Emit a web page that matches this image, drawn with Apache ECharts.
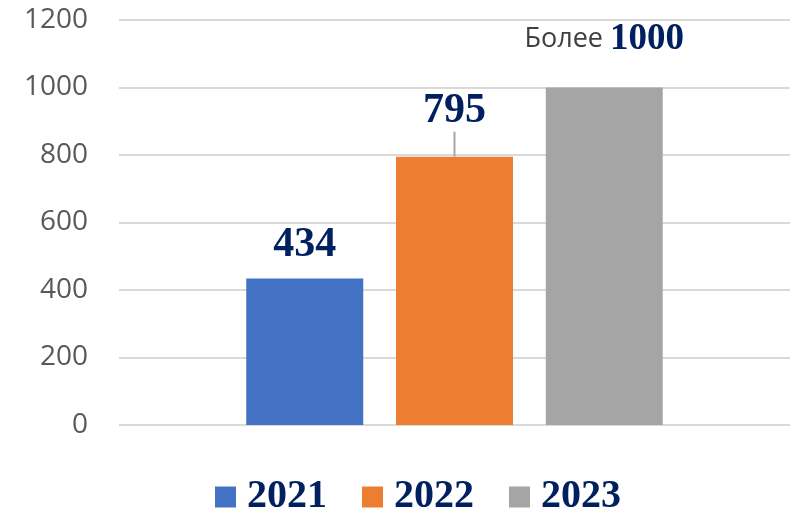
<!DOCTYPE html>
<html>
<head>
<meta charset="UTF-8">
<title>chart</title>
<script src="https://cdn.jsdelivr.net/npm/echarts@6/dist/echarts.min.js"></script>
<style>
  html, body { margin: 0; padding: 0; background: #fff; }
  #main { width: 795px; height: 513px; }
</style>
</head>
<body>
<div id="main"></div>
<script>
// данные
var years = ['2021', '2022', '2023'];
var values = [434, 795, 1000];
var colors = ['#4472C4', '#ED7D31', '#A5A5A5'];
var yTicks = [0, 200, 400, 600, 800, 1000, 1200];

var navy = '#002060';
var serif = '"Liberation Serif", "Times New Roman", serif';

var chart = echarts.init(document.getElementById('main'));

// подписи над столбиками
var labels = [
    { show: true, position: 'top', distance: 12, color: navy, fontFamily: serif, fontWeight: 'bold', fontSize: 42 },
    { show: true, position: 'top', distance: 5, color: navy, fontFamily: serif, fontWeight: 'bold', fontSize: 42 },
    {
        show: true, position: 'top', distance: 30,
        formatter: function (p) { return '{a|Более }{b|' + p.value + '}'; },
        rich: {
            a: { fontFamily: '"Open Sans", sans-serif', fontSize: 27, color: '#404040' },
            b: { fontFamily: serif, fontWeight: 'bold', fontSize: 37, color: navy }
        }
    }
];

var series = [];
for (var i = 0; i < years.length; i++) {
    var s = {
        name: years[i],
        type: 'bar',
        data: [values[i]],
        barWidth: 117,
        barGap: '28%',
        itemStyle: { color: colors[i] },
        label: labels[i]
    };
    if (i == 1) {
        s.labelLayout = { dy: -20 };
        s.labelLine = { show: true, lineStyle: { color: '#a6a6a6', width: 2 } };
    }
    series.push(s);
}

var option = {
    animation: false,
    grid: { left: 119, right: 5, top: 20, bottom: 88 },
    legend: {
        data: years,
        left: 210,
        top: 472,
        icon: 'rect',
        itemWidth: 21,
        itemHeight: 21,
        itemGap: 35,
        textStyle: { color: navy, fontFamily: serif, fontWeight: 'bold', fontSize: 40, padding: [0, 0, 0, 6] }
    },
    xAxis: {
        type: 'category',
        data: [''],
        axisLine: { show: false },
        axisTick: { show: false },
        axisLabel: { show: false }
    },
    yAxis: {
        type: 'value',
        min: yTicks[0],
        max: yTicks[yTicks.length - 1],
        interval: 200,
        axisLine: { show: false },
        axisTick: { show: false },
        axisLabel: {
            margin: 31, color: '#595959', fontSize: 28, fontFamily: '"Open Sans", sans-serif',
            formatter: function (v) { return String(v); }
        },
        splitLine: { lineStyle: { color: '#d9d9d9', width: 2 } }
    },
    series: series
};
chart.setOption(option);
</script>
</body>
</html>
